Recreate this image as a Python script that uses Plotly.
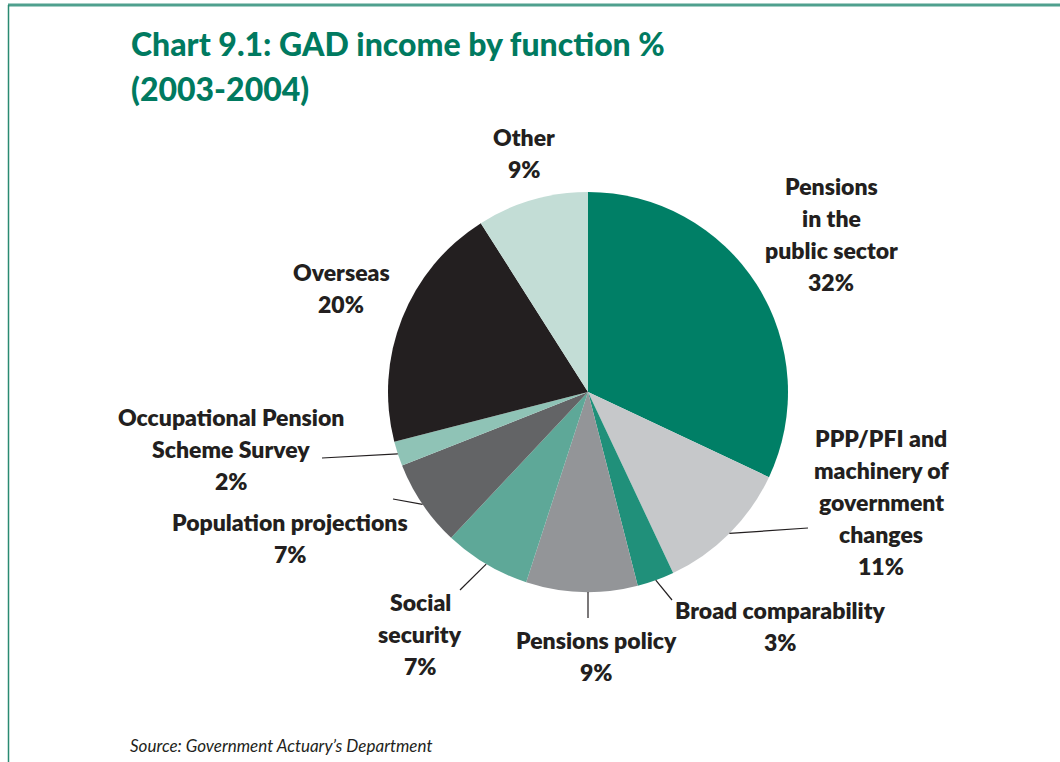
import math
import plotly.graph_objects as go

# ---- data ----
categories = ["Pensions in the public sector", "PPP/PFI and machinery of government changes",
              "Broad comparability", "Pensions policy", "Social security",
              "Population projections", "Occupational Pension Scheme Survey",
              "Overseas", "Other"]
values = [32, 11, 3, 9, 7, 7, 2, 20, 9]
colors = ["#007f66", "#c6c8ca", "#20907a", "#939598", "#5ea898",
          "#636466", "#8fc3b6", "#231f20", "#c3ddd6"]
label_lines = [
    ["Pensions", "in the", "public sector"],
    ["PPP/PFI and", "machinery of", "government", "changes"],
    ["Broad comparability"],
    ["Pensions policy"],
    ["Social", "security"],
    ["Population projections"],
    ["Occupational Pension", "Scheme Survey"],
    ["Overseas"],
    ["Other"],
]
# label placement (pixel centre x, first-line y) and leader end points (None = no leader)
label_pos = [(831, 186), (881, 438), (780, 610), (596, 640), (420, 602),
             (290, 522), (231, 417), (341, 272), (524, 137)]
leader_end = [None, (808, 528), (672, 600), None, (460, 590),
              (393, 499), (322, 458), None, None]

W, H = 1060, 762
OFF = 0  # page body margin removed via post_script
CX, CY, R = 588, 392, 200
LINE = 32

def px(x, y):
    return (x - OFF) / W, 1 - (y - OFF) / H

dx0, dy1 = px(CX - R, CY - R)
dx1, dy0 = px(CX + R, CY + R)
fig = go.Figure(go.Pie(
    labels=categories, values=values, sort=False, direction="clockwise", rotation=0,
    marker=dict(colors=colors, line=dict(width=0)),
    textinfo="none", hoverinfo="label+percent", showlegend=False,
    domain=dict(x=[dx0, dx1], y=[dy0, dy1]),
))

annotations = []
font = dict(family="Lato, 'Open Sans', sans-serif", size=23, color="#231f20", weight=800)
total = sum(values)
cum = 0
shapes = []
for i, (name, v) in enumerate(zip(categories, values)):
    lines = label_lines[i] + [f"{round(100 * v / total)}%"]
    lx, ly = label_pos[i]
    for k, t in enumerate(lines):
        x, y = px(lx, ly + k * LINE)
        annotations.append(dict(x=x, y=y, xref="paper", yref="paper", text=t,
                                showarrow=False, xanchor="center", yanchor="middle", font=font))
    mid = (cum + v / 2) / total
    ang = math.radians(90 - 360 * mid)
    sx, sy = CX + R * math.cos(ang), CY - R * math.sin(ang)
    if i == 3:
        sx = CX
        ex, ey = sx, 618
    elif leader_end[i] is not None:
        ex, ey = leader_end[i]
    else:
        ex = None
    if ex is not None:
        x0, y0 = px(sx, sy)
        x1, y1 = px(ex, ey)
        shapes.append(dict(type="line", xref="paper", yref="paper", x0=x0, y0=y0, x1=x1, y1=y1,
                           line=dict(color="#231f20", width=1.2)))
    cum += v

# title
title_font = dict(family="Lato, 'Open Sans', sans-serif", size=32, color="#007a60", weight=900)
for k, t in enumerate(["Chart 9.1: GAD income by function %", "(2003-2004)"]):
    x, y = px(129, 44 + k * 45)
    annotations.append(dict(x=x, y=y, xref="paper", yref="paper", text=t,
                            showarrow=False, xanchor="left", yanchor="middle", font=title_font))
x, y = px(128, 745)
annotations.append(dict(x=x, y=y, xref="paper", yref="paper",
                        text="<i>Source: Government Actuary\u2019s Department</i>",
                        showarrow=False, xanchor="left", yanchor="middle",
                        font=dict(family="Lato, 'Open Sans', sans-serif", size=17, color="#231f20")))

# frame
fx0, fy = px(8, 5)
fx1, _ = px(1068, 5)
lx0, _ = px(8.5, 5)
_, fyb = px(8.5, 770)
shapes.append(dict(type="line", xref="paper", yref="paper", x0=fx0, x1=fx1, y0=fy, y1=fy,
                   line=dict(color="#4fa08e", width=3)))
shapes.append(dict(type="line", xref="paper", yref="paper", x0=lx0, x1=lx0, y0=fyb, y1=fy,
                   line=dict(color="#2a8a72", width=1.5)))

fig.update_layout(width=W, height=H, margin=dict(l=0, r=0, t=0, b=0),
                  paper_bgcolor="white", plot_bgcolor="white",
                  annotations=annotations, shapes=shapes)
fig.write_html("out.html", config={"displayModeBar": False},
               post_script="document.body.style.margin='0';document.body.style.overflow='hidden';")
